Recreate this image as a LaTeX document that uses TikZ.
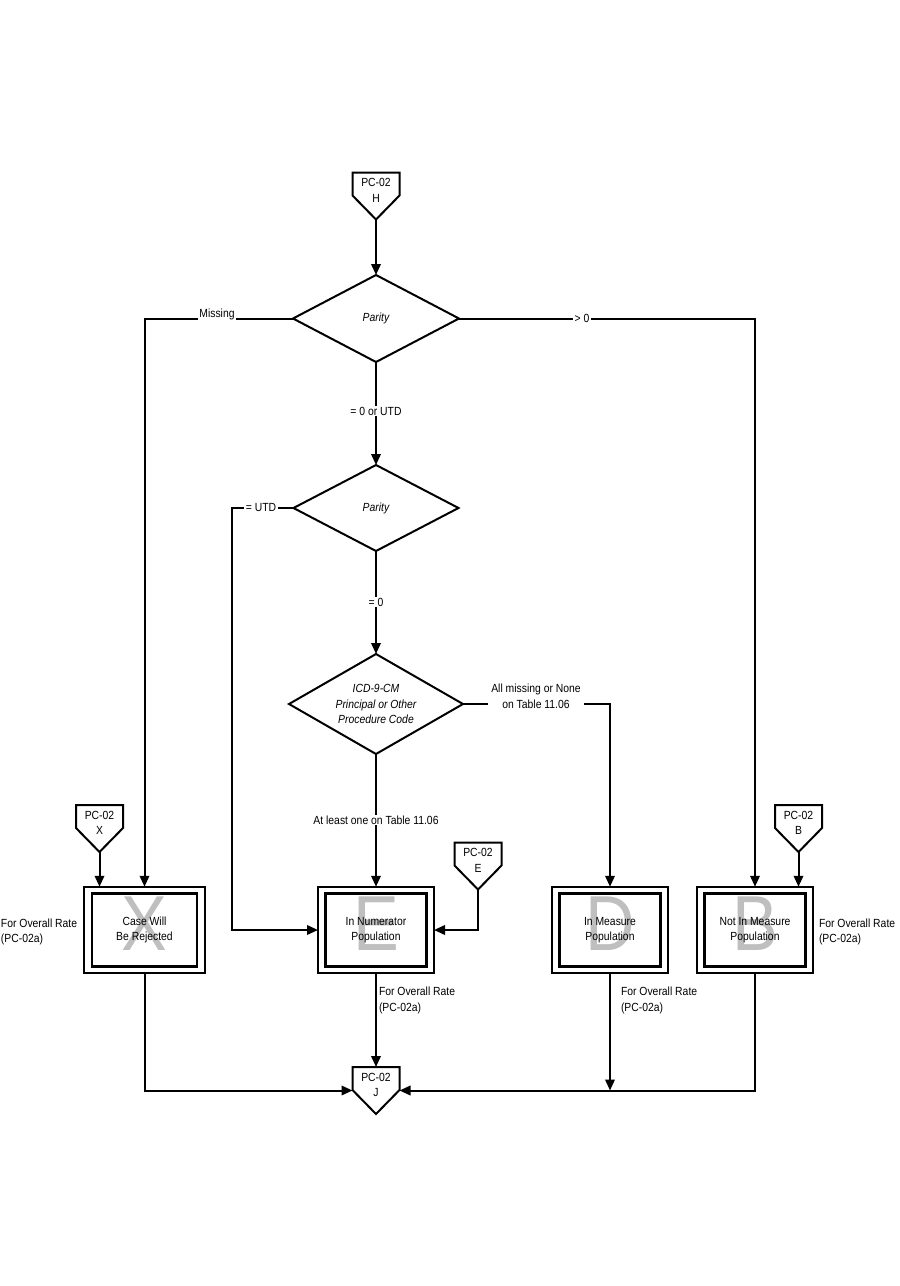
\documentclass[tikz,border=0pt]{standalone}
\usepackage{fontspec}
\setmainfont[FakeStretch=0.88]{Liberation Sans}
\usetikzlibrary{shapes.geometric,arrows.meta,calc}
\begin{document}
\begin{tikzpicture}[x=1pt,y=-1pt,
  every node/.style={font=\fontsize{11.8}{15.5}\selectfont, inner sep=0pt, outer sep=0pt, align=center},
  ln/.style={line width=2pt, line join=miter},
  arr/.style={ln, -{Triangle[length=11pt,width=9.5pt]}},
  dec/.style={diamond, draw, line width=2pt, aspect=2, font=\fontsize{11.8}{15.5}\selectfont\itshape},
  outerbox/.style={draw, line width=2.2pt, minimum width=116pt, minimum height=86.5pt},
  innerbox/.style={draw, line width=2.6pt, minimum width=101pt, minimum height=72.5pt},
  bigletter/.style={text=black!25, font=\fontsize{78}{78}\selectfont},
  lbl/.style={fill=white, inner xsep=1.5pt, inner ysep=1pt},
  note/.style={align=left, anchor=west},
  connbox/.style={minimum width=47pt, minimum height=47pt}
]
\useasboundingbox[fill=white] (0,0) rectangle (900,1286);

\newcommand{\offpage}[4]{%
  \node[connbox] (#1) at (#2,#3+23.5) {};
  \node (#1t) at (#2,#3+18) {PC-02\\#4};
  \draw[ln] (#1.north west) -- (#1.north east) -- ([yshift=-23pt]#1.north east)
     -- (#1.south) -- ([yshift=-23pt]#1.north west) -- cycle;
}

% off-page connectors
\offpage{H}{376}{172.5}{H}
\offpage{Xc}{99.5}{805}{X}
\offpage{Ec}{478}{842.5}{E}
\offpage{Bc}{798.5}{805}{B}
\offpage{J}{376}{1067}{J}

% decisions
\node[dec, minimum width=166pt, minimum height=87pt] (d1) at (376,318.5) {Parity};
\node[dec, minimum width=165pt, minimum height=86pt] (d2) at (376,508) {Parity};
\node[dec, minimum width=174pt, minimum height=100pt] (d3) at (376,704) {ICD-9-CM\\Principal or Other\\Procedure Code};

% boxes
\node[bigletter] (Xl) at (144.5,924) {X};
\node[outerbox, minimum width=120.5pt] (X) at (144.5,930) {};
\node[innerbox, minimum width=105pt] (Xi) at (144.5,930) {Case Will\\Be Rejected};

\node[bigletter] (El) at (376,924) {E};
\node[outerbox] (E) at (376,930) {};
\node[innerbox] (Ei) at (376,930) {In Numerator\\Population};

\node[bigletter] (Dl) at (610,924) {D};
\node[outerbox] (D) at (610,930) {};
\node[innerbox] (Di) at (610,930) {In Measure\\Population};

\node[bigletter] (Bl) at (755,924) {B};
\node[outerbox] (B) at (755,930) {};
\node[innerbox] (Bi) at (755,930) {Not In Measure\\Population};

% notes
\node[note] (n1) at (1,932) {For Overall Rate\\(PC-02a)};
\node[note] (n2) at (819,932) {For Overall Rate\\(PC-02a)};
\node[note] (n3) at (379,1000.5) {For Overall Rate\\(PC-02a)};
\node[note] (n4) at (621,1000.5) {For Overall Rate\\(PC-02a)};

% coordinates
\coordinate (dline) at (610,1090.5);

% connectors
\draw[arr] (H.south) -- (d1.north);
\draw[arr] (d1.west) -| (X.north);
\draw[arr] (d1.east) -| (B.north);
\draw[arr] (d1.south) -- (d2.north);
\draw[arr] (d2.west) -- ++(-62,0) |- (E.west);
\draw[arr] (d2.south) -- (d3.north);
\draw[arr] (d3.east) -| (D.north);
\draw[arr] (d3.south) -- (E.north);
\draw[arr] (Xc.south) -- (Xc.south |- X.north);
\draw[arr] (Ec.south) |- (E.east);
\draw[arr] (Bc.south) -- (Bc.south |- B.north);
\draw[arr] (X.south) |- (J.west);
\draw[arr] (E.south) -- (J.north);
\draw[arr] (D.south) -- (dline);
\draw[arr] (B.south) |- (J.east);

% connector labels
\node[lbl] (lmiss) at (217,314) {Missing};
\node[lbl] (lgt) at (582,318) {> 0};
\node[lbl] (lzu) at (376,411) {= 0 or UTD};
\node[lbl] (lutd) at (261,507.5) {= UTD};
\node[lbl] (lzero) at (376,602) {= 0};
\node[lbl, inner xsep=3pt] (lnone) at (536,696.5) {All missing or None\\on Table 11.06};
\node[lbl] (lone) at (376,820) {At least one on Table 11.06};
\end{tikzpicture}
\end{document}
